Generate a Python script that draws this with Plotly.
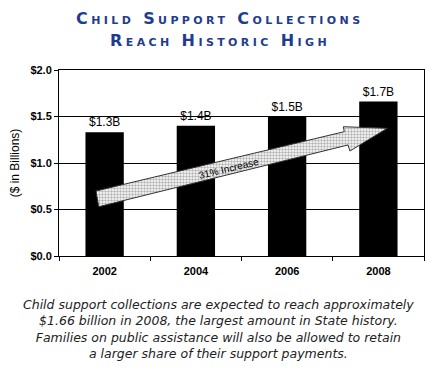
import plotly.graph_objects as go

years = ["2002", "2004", "2006", "2008"]
collections = [1.33, 1.40, 1.50, 1.66]
bar_labels = ["$1.3B", "$1.4B", "$1.5B", "$1.7B"]
y_ticks = [0.0, 0.5, 1.0, 1.5, 2.0]
y_tick_labels = ["$0.0", "$0.5", "$1.0", "$1.5", "$2.0"]
title_lines = ["Child Support Collections", "Reach Historic High"]
caption_lines = [
    "Child support collections are expected to reach approximately",
    "$1.66 billion in 2008, the largest amount in State history.",
    "Families on public assistance will also be allowed to retain",
    "a larger share of their support payments.",
]

# decorative arrow outline (fraction of plot width, value units)
arrow_x = [0.1014, 0.7816, 0.779, 0.8995, 0.797, 0.7918, 0.1088, 0.1014]
arrow_y = [0.699, 1.337, 1.390, 1.373, 1.129, 1.194, 0.530, 0.699]

fig = go.Figure()
fig.add_trace(go.Bar(
    x=years, y=collections, text=bar_labels, textposition="outside",
    marker=dict(color="black", line=dict(width=0)),
    textfont=dict(family="Liberation Sans, Arial", size=12, color="black"),
    cliponaxis=False, showlegend=False, hoverinfo="skip",
))
fig.add_trace(go.Scatter(
    x=arrow_x, y=arrow_y, xaxis="x2", yaxis="y", mode="lines",
    fill="toself", fillcolor="#c8c8c8",
    fillpattern=dict(shape=".", fgcolor="#666666", bgcolor="#ffffff", size=3, solidity=0.5),
    line=dict(color="#333333", width=1), showlegend=False, hoverinfo="skip",
))

title_font = dict(family="DejaVu Sans", size=16, color="#1f3d8f", weight="bold", variant="small-caps")
for line, ypos in zip(title_lines, [1.277, 1.156]):
    fig.add_annotation(text="<span style='letter-spacing:3.4px'>" + line + "</span>",
                       xref="paper", yref="paper", x=0.5, y=ypos, xshift=-22, yanchor="middle",
                       showarrow=False, font=title_font)

fig.add_annotation(text="31% Increase", xref="x2", yref="y", x=0.465, y=0.94, textangle=-13.5,
                   showarrow=False, font=dict(family="Liberation Sans, Arial", size=10, color="black"))

fig.add_annotation(text="<br>".join(caption_lines),
                   xref="paper", yref="paper", x=0.5, y=-0.3925, xshift=-23, yanchor="middle",
                   showarrow=False, align="center",
                   font=dict(family="DejaVu Sans", size=12.5, color="#222222", style="italic"))

fig.update_layout(
    width=429, height=368,
    margin=dict(l=51, r=13, t=62, b=120, autoexpand=False),
    paper_bgcolor="white", plot_bgcolor="white",
    bargap=0.58,
    font=dict(family="Liberation Sans, Arial", color="black"),
    xaxis=dict(
        type="category", showline=True, linecolor="black", linewidth=1, mirror=True,
        ticks="outside", ticklen=4, tickcolor="black", tickson="boundaries",
        showgrid=False, tickfont=dict(size=11, weight="bold", color="black"),
        ticklabelstandoff=5, automargin=False,
    ),
    xaxis2=dict(overlaying="x", range=[0, 1], visible=False),
    yaxis=dict(
        range=[0, 2.0], tickvals=y_ticks, ticktext=y_tick_labels,
        showline=True, linecolor="black", linewidth=1, mirror=True,
        ticks="outside", ticklen=4, tickcolor="black",
        showgrid=True, gridcolor="black", gridwidth=1, zeroline=False,
        tickfont=dict(size=11, weight="bold", color="black"), automargin=False,
        title=dict(text="($ in Billions)", font=dict(size=12, color="black"), standoff=8),
    ),
)

fig.write_html("out.html")
